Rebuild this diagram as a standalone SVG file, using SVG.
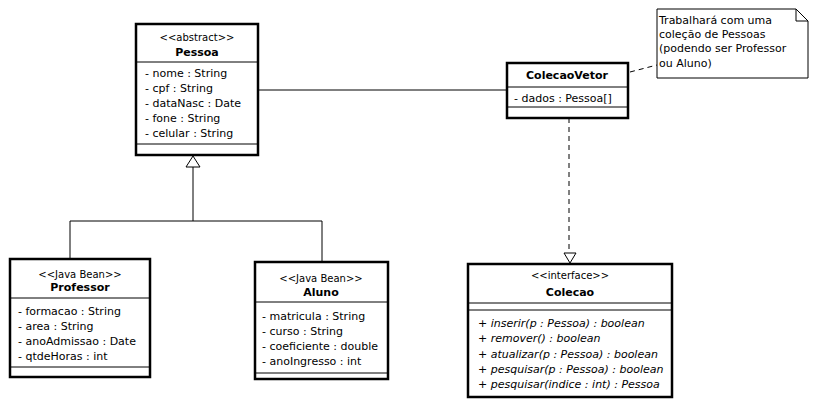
<svg xmlns="http://www.w3.org/2000/svg" width="817" height="407" viewBox="0 0 817 407">
<style>
.box{fill:#fff;stroke:#000;stroke-width:2.5}
.sep{stroke:#000;stroke-width:1}
text{font-family:"DejaVu Sans","Liberation Sans",sans-serif;font-size:11px;fill:#000}
.st{font-size:10px;text-anchor:middle}
.ti{font-weight:bold;font-size:11px;text-anchor:middle}
.it{font-style:italic}
.ln{fill:none;stroke:#000;stroke-width:1}
.dash{fill:none;stroke:#000;stroke-width:1;stroke-dasharray:5,4}
.tri{fill:#fff;stroke:#000;stroke-width:1}
</style>
<rect width="817" height="407" fill="#fff"/>
<g id="connectors">
<line class="ln" x1="258" y1="90" x2="507" y2="90"/>
<polyline class="ln" points="193,167 193,221"/>
<polyline class="ln" points="70,259 70,221 322,221 322,262"/>
<polygon class="tri" points="193,156 186,167 200,167"/>
<line class="dash" x1="569" y1="118" x2="569" y2="253"/>
<polygon class="tri" points="570,263 564,253 576,253"/>
<line class="dash" x1="630" y1="72" x2="657" y2="65"/>
</g>
<g id="Pessoa">
<rect class="box" x="136" y="24" width="122" height="131"/>
<line class="sep" x1="136" y1="62" x2="258" y2="62"/>
<line class="sep" x1="136" y1="144" x2="258" y2="144"/>
<text class="st" x="197" y="41">&lt;&lt;abstract&gt;&gt;</text>
<text class="ti" x="197" y="56">Pessoa</text>
<text x="145" y="77">- nome : String</text>
<text x="145" y="92">- cpf : String</text>
<text x="145" y="107">- dataNasc : Date</text>
<text x="145" y="122">- fone : String</text>
<text x="145" y="137">- celular : String</text>
</g>
<g id="ColecaoVetor">
<rect class="box" x="507" y="63" width="121" height="55"/>
<line class="sep" x1="507" y1="87" x2="628" y2="87"/>
<line class="sep" x1="507" y1="107" x2="628" y2="107"/>
<text class="ti" x="567" y="79">ColecaoVetor</text>
<text x="514" y="102">- dados : Pessoa[]</text>
</g>
<g id="note">
<path d="M657,9 H796 L808,21 V78 H657 Z" fill="#fff" stroke="#000" stroke-width="1"/>
<path d="M796,9 V21 H808" fill="none" stroke="#000" stroke-width="1"/>
<text x="659" y="24">Trabalhará com uma</text>
<text x="659" y="38">coleção de Pessoas</text>
<text x="659" y="52">(podendo ser Professor</text>
<text x="659" y="67">ou Aluno)</text>
</g>
<g id="Professor">
<rect class="box" x="10" y="259" width="140" height="118"/>
<line class="sep" x1="10" y1="298" x2="150" y2="298"/>
<line class="sep" x1="10" y1="367" x2="150" y2="367"/>
<text class="st" x="80" y="278">&lt;&lt;Java Bean&gt;&gt;</text>
<text class="ti" x="80" y="291">Professor</text>
<text x="18" y="315">- formacao : String</text>
<text x="18" y="330">- area : String</text>
<text x="18" y="345">- anoAdmissao : Date</text>
<text x="18" y="360">- qtdeHoras : int</text>
</g>
<g id="Aluno">
<rect class="box" x="255" y="262" width="133" height="117"/>
<line class="sep" x1="255" y1="302" x2="388" y2="302"/>
<line class="sep" x1="255" y1="373" x2="388" y2="373"/>
<text class="st" x="321" y="282">&lt;&lt;Java Bean&gt;&gt;</text>
<text class="ti" x="321" y="296">Aluno</text>
<text x="262" y="320">- matricula : String</text>
<text x="262" y="335">- curso : String</text>
<text x="262" y="350">- coeficiente : double</text>
<text x="262" y="365">- anoIngresso : int</text>
</g>
<g id="Colecao">
<rect class="box" x="468" y="264" width="204" height="133"/>
<line class="sep" x1="468" y1="303" x2="672" y2="303"/>
<line class="sep" x1="468" y1="310" x2="672" y2="310"/>
<text class="st" x="570" y="279">&lt;&lt;interface&gt;&gt;</text>
<text class="ti" x="570" y="296">Colecao</text>
<text class="it" x="478" y="327">+ inserir(p : Pessoa) : boolean</text>
<text class="it" x="478" y="342">+ remover() : boolean</text>
<text class="it" x="478" y="358">+ atualizar(p : Pessoa) : boolean</text>
<text class="it" x="478" y="373">+ pesquisar(p : Pessoa) : boolean</text>
<text class="it" x="478" y="388">+ pesquisar(indice : int) : Pessoa</text>
</g>
</svg>
